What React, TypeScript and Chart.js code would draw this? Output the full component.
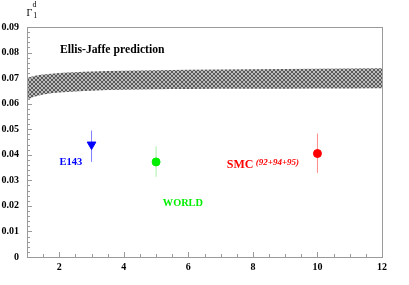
import { useEffect, useRef } from 'react';
import { Chart, registerables } from 'chart.js';

Chart.register(...registerables);

// Axis ticks
const xTicks = [2, 4, 6, 8, 10, 12];
const yTicks = [0, 0.01, 0.02, 0.03, 0.04, 0.05, 0.06, 0.07, 0.08, 0.09];

// Ellis-Jaffe prediction band
const bandX = [1, 1.25, 1.5, 2, 2.5, 3, 4, 5, 6, 8, 10, 12];
const bandTop = [0.0701, 0.0709, 0.0714, 0.072, 0.0723, 0.0726, 0.0729, 0.0731, 0.0733, 0.0735, 0.0737, 0.0739];
const bandBottom = [0.0616, 0.0628, 0.0636, 0.0644, 0.0648, 0.0651, 0.0654, 0.0656, 0.0657, 0.0658, 0.0659, 0.066];

// Measurements
const expNames = ['E143', 'WORLD', 'SMC'];
const expX = [3, 5, 10];
const expY = [0.044, 0.0372, 0.0405];
const expLow = [0.0372, 0.0314, 0.0329];
const expHigh = [0.0495, 0.0433, 0.0483];
const expColors = ['#0000ff', '#00ee00', '#ff0000'];
const expBarColors = ['#8080ff', '#a8eea8', '#ff8c8c'];
const expMarker = ['triangle', 'circle', 'circle'];
const expRotation = [180, 0, 0];
const expRadius = [5, 4, 4];

// Text annotations (data coordinates)
const labelTexts = ['Ellis-Jaffe prediction', 'E143', 'WORLD', 'SMC', '(92+94+95)'];
const labelX = [2.02, 2.01, 5.21, 7.19, 8.09];
const labelY = [0.0809, 0.037, 0.021, 0.0362, 0.0368];
const labelColors = ['#000000', '#0000ff', '#00ee00', '#ff0000', '#ff0000'];
const labelFonts = [
  'bold 11.7px "Liberation Serif"',
  'bold 10.5px "Liberation Serif"',
  'bold 10.3px "Liberation Serif"',
  'bold 12px "Liberation Serif"',
  'italic bold 9px "Liberation Serif"',
];

const FRAME = '#9a9a9a';

function makePattern(): CanvasPattern | string {
  const pc = document.createElement('canvas');
  pc.width = 4;
  pc.height = 4;
  const g = pc.getContext('2d');
  if (!g) return '#888';
  g.fillStyle = '#bcbcbc';
  g.fillRect(0, 0, 4, 4);
  g.fillStyle = '#5a5a5a';
  for (let i = 0; i < 4; i++) {
    g.fillRect(i, i, 1, 1);
    g.fillRect(3 - i, i, 1, 1);
  }
  const p = g.createPattern(pc, 'repeat');
  return p || '#888';
}

const overlayPlugin = {
  id: 'overlay',
  afterDraw(chart: any) {
    const { ctx, chartArea } = chart;
    const xs = chart.scales.x;
    const ys = chart.scales.y;
    const { left, right, top, bottom } = chartArea;
    ctx.save();
    // frame
    ctx.strokeStyle = FRAME;
    ctx.lineWidth = 1;
    ctx.strokeRect(Math.round(left) + 0.5, Math.round(top) + 0.5, Math.round(right - left), Math.round(bottom - top));
    // y ticks (inward)
    ctx.beginPath();
    for (let k = 0; k <= 45; k++) {
      const v = k * 0.002;
      const py = Math.round(ys.getPixelForValue(v)) + 0.5;
      const len = k % 5 === 0 ? 5 : 3;
      ctx.moveTo(left, py);
      ctx.lineTo(left + len, py);
    }
    // x ticks (inward)
    for (let k = 0; k <= 22; k++) {
      const v = 1 + k * 0.5;
      const px = Math.round(xs.getPixelForValue(v)) + 0.5;
      const len = v % 2 === 0 ? 5 : 3;
      ctx.moveTo(px, bottom);
      ctx.lineTo(px, bottom - len);
    }
    ctx.stroke();

    // annotations
    ctx.textBaseline = 'middle';
    ctx.textAlign = 'left';
    for (let i = 0; i < labelTexts.length; i++) {
      ctx.font = labelFonts[i];
      ctx.fillStyle = labelColors[i];
      ctx.fillText(labelTexts[i], xs.getPixelForValue(labelX[i]), ys.getPixelForValue(labelY[i]));
    }

    // y-axis title  Γ_1^d
    ctx.fillStyle = '#000';
    ctx.textBaseline = 'alphabetic';
    ctx.font = '10px "Liberation Serif"';
    ctx.fillText('Γ', left - 0.5, top - 11.3);
    ctx.font = '8px "Liberation Serif"';
    ctx.fillText('1', left + 6.3, top - 8.7);
    ctx.fillText('d', left + 5.5, top - 19.7);
    ctx.restore();
  },
};

export default function App() {
  const ref = useRef<HTMLCanvasElement | null>(null);
  useEffect(() => {
    const canvas = ref.current;
    if (!canvas) return;
    const pattern = makePattern();
    const markerSets = expNames.map((name, i) => ({
      label: name,
      data: [{ x: expX[i], y: expY[i] }],
      showLine: false,
      pointStyle: expMarker[i] as any,
      rotation: expRotation[i],
      pointRadius: expRadius[i],
      pointBackgroundColor: expColors[i],
      pointBorderColor: expColors[i],
      pointBorderWidth: 1,
      order: 0,
    }));
    const barSets = expNames.map((name, i) => ({
      label: name + ' error',
      data: [
        { x: expX[i], y: expLow[i] },
        { x: expX[i], y: expHigh[i] },
      ],
      showLine: true,
      borderColor: expBarColors[i],
      borderWidth: 1,
      pointRadius: 0,
      order: 1,
    }));
    const chart = new Chart(canvas, {
      type: 'scatter',
      data: {
        datasets: [
          {
            label: 'band top',
            data: bandX.map((x, i) => ({ x, y: bandTop[i] })),
            showLine: true,
            borderWidth: 0,
            borderColor: 'rgba(0,0,0,0)',
            pointRadius: 0,
            fill: false,
            cubicInterpolationMode: 'monotone',
            order: 2,
          },
          {
            label: 'band bottom',
            data: bandX.map((x, i) => ({ x, y: bandBottom[i] })),
            showLine: true,
            borderWidth: 0,
            borderColor: 'rgba(0,0,0,0)',
            backgroundColor: pattern as any,
            pointRadius: 0,
            fill: '-1',
            cubicInterpolationMode: 'monotone',
            order: 2,
          },
          ...barSets,
          ...markerSets,
        ] as any,
      },
      options: {
        responsive: false,
        animation: false,
        devicePixelRatio: 1,
        events: [],
        layout: { padding: { left: 0, top: 27, right: 27, bottom: 0 } },
        plugins: {
          legend: { display: false },
          tooltip: { enabled: false },
          title: { display: false },
        },
        scales: {
          x: {
            type: 'linear',
            min: 1,
            max: 12,
            grid: { display: false, drawTicks: false },
            border: { display: false },
            afterBuildTicks: (scale: any) => {
              scale.ticks = xTicks.map((v) => ({ value: v }));
            },
            afterFit: (scale: any) => {
              scale.height = 28;
            },
            ticks: {
              color: '#000',
              padding: 4,
              maxRotation: 0,
              font: { family: '"Liberation Serif"', size: 10, weight: 'bold' },
              callback: (v: any) => String(v),
            },
          },
          y: {
            type: 'linear',
            min: 0,
            max: 0.09,
            grid: { display: false, drawTicks: false },
            border: { display: false },
            afterBuildTicks: (scale: any) => {
              scale.ticks = yTicks.map((v) => ({ value: v }));
            },
            afterFit: (scale: any) => {
              scale.width = 27;
            },
            ticks: {
              color: '#000',
              padding: 8,
              font: { family: '"Liberation Serif"', size: 10, weight: 'bold' },
              callback: (v: any) => (Number(v) === 0 ? '0' : Number(v).toFixed(2)),
            },
          },
        },
      },
      plugins: [overlayPlugin],
    });
    return () => chart.destroy();
  }, []);
  return (
    <div style={{ position: 'fixed', left: 0, top: 0, width: 409, height: 285, background: '#fff' }}>
      <canvas ref={ref} width={409} height={285} style={{ display: 'block', width: 409, height: 285 }} />
    </div>
  );
}
